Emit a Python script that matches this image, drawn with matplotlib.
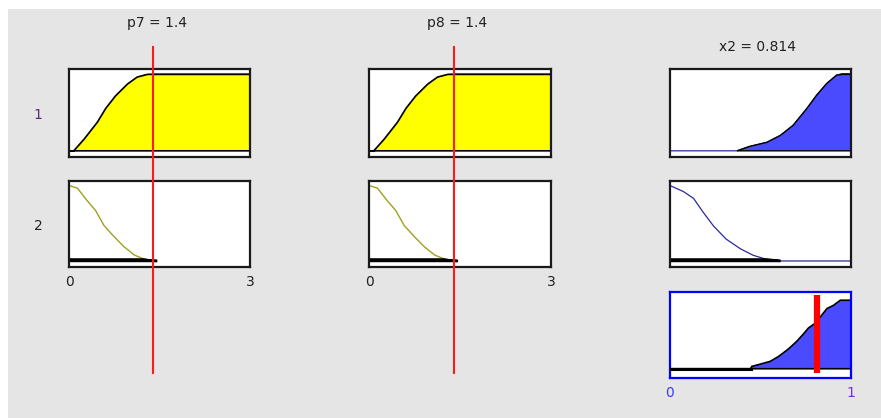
import numpy as np
import matplotlib
matplotlib.use("Agg")
import matplotlib.pyplot as plt
from matplotlib.patches import Rectangle
from matplotlib.lines import Line2D
import matplotlib.transforms as mtransforms

# ---------------- data ----------------
input_names = ["p7", "p8"]
input_values = [1.4, 1.4]
input_range = [0, 3]
output_name = "x2"
output_value = 0.814
output_range = [0, 1]
rule_labels = ["1", "2"]

# input MF 1 (rising)
in_x_rise = [0, 0.08, 0.25, 0.36, 0.47, 0.61, 0.77, 0.97, 1.13, 1.30, 1.46, 3.0]
in_mf_rise = [0, 0, 0.15, 0.26, 0.37, 0.55, 0.71, 0.865, 0.955, 0.99, 1.0, 1.0]
# input MF 2 (falling)
in_x_fall = [0, 0.14, 0.30, 0.44, 0.58, 0.75, 0.91, 1.08, 1.24, 1.35, 1.46]
in_mf_fall = [1.0, 0.965, 0.80, 0.67, 0.47, 0.32, 0.19, 0.08, 0.026, 0.006, 0.0]

# output MF 1 (high) and MF 2 (low)
out_x_high = [0, 0.37, 0.44, 0.535, 0.61, 0.68, 0.755, 0.81, 0.865, 0.92, 0.95, 1.0]
out_mf_high = [0, 0, 0.057, 0.11, 0.2, 0.33, 0.545, 0.72, 0.87, 0.98, 1.0, 1.0]
out_x_low = [0, 0.074, 0.13, 0.185, 0.24, 0.31, 0.39, 0.46, 0.535, 0.61, 1.0]
out_mf_low = [1.0, 0.92, 0.83, 0.64, 0.465, 0.29, 0.16, 0.075, 0.02, 0.0, 0.0]

# rule firing strengths
rule_strength = [0.99, 0.02]

# aggregated output
agg_x = [0, 0.445, 0.452, 0.498, 0.553, 0.60, 0.655, 0.70, 0.738, 0.765, 0.80,
         0.83, 0.867, 0.904, 0.941, 1.0]
agg_y = [0, 0, 0.034, 0.067, 0.107, 0.18, 0.29, 0.40, 0.51, 0.595, 0.66,
         0.755, 0.878, 0.927, 1.0, 1.0]

# ---------------- style ----------------
W, H = 881, 418
BG = "#e5e5e5"
YELLOW = "#ffff00"
OLIVE = "#a0a020"
BLUEFILL = "#4a4aff"
NAVY = "#2a2a9a"
TXT = "#222222"

fig = plt.figure(figsize=(W / 100, H / 100), dpi=100)
fig.patch.set_facecolor("white")
fig.add_artist(Rectangle((8 / W, 0), 1 - 8 / W, 1 - 9 / H, transform=fig.transFigure,
                         facecolor=BG, edgecolor="none", zorder=-10))


def px_axes(x0, x1, y0, y1):
    return fig.add_axes([x0 / W, 1 - y1 / H, (x1 - x0) / W, (y1 - y0) / H])


def style_box(ax, color="#1a1a1a"):
    ax.set_facecolor("white")
    for s in ax.spines.values():
        s.set_color(color)
        s.set_linewidth(1.6)
    ax.tick_params(length=0)
    ax.set_yticks([])


col_x = [(69, 250), (369, 551), (670, 851)]
row_y = [(69, 157), (181, 267)]
MF_YLIM = (-0.08, 1.06)

in_mfs = [(in_x_rise, in_mf_rise), (in_x_fall, in_mf_fall)]
out_mfs = [(out_x_high, out_mf_high), (out_x_low, out_mf_low)]

for ci in range(2):
    axes_col = []
    for ri in range(2):
        ax = px_axes(col_x[ci][0], col_x[ci][1], row_y[ri][0], row_y[ri][1])
        style_box(ax)
        x = np.array(in_mfs[ri][0])
        y = np.array(in_mfs[ri][1])
        ax.plot(x, y, color=OLIVE, lw=1.0, zorder=1)
        clipped = np.minimum(y, rule_strength[ri])
        ax.fill(np.r_[x, x[::-1]], np.r_[clipped, np.zeros_like(x)],
                facecolor=YELLOW, edgecolor="black", lw=1.2 if ri == 0 else 1.8, zorder=2)
        ax.set_xlim(input_range)
        ax.set_ylim(MF_YLIM)
        if ri == 1:
            ax.set_xticks(input_range)
            ax.set_xticklabels([str(v) for v in input_range], fontsize=10, color=TXT)
            ax.tick_params(axis="x", pad=6)
        else:
            ax.set_xticks([])
        axes_col.append(ax)
    top = axes_col[0]
    tr = mtransforms.blended_transform_factory(top.transAxes, fig.transFigure)
    fig.text(0.485, 1 - 23 / H, f"{input_names[ci]} = {input_values[ci]}",
             transform=tr, ha="center", va="center", fontsize=10, color=TXT)
    trl = mtransforms.blended_transform_factory(top.transData, fig.transFigure)
    fig.add_artist(Line2D([input_values[ci], input_values[ci]], [1 - 373 / H, 1 - 47 / H],
                          transform=trl, color="#ff1a1a", lw=1.5, zorder=5))

# output column
for ri in range(2):
    ax = px_axes(col_x[2][0], col_x[2][1], row_y[ri][0], row_y[ri][1])
    style_box(ax)
    x = np.array(out_mfs[ri][0])
    y = np.array(out_mfs[ri][1])
    ax.plot(x, y, color=NAVY, lw=0.9, zorder=1)
    clipped = np.minimum(y, rule_strength[ri])
    pos = np.nonzero(clipped > 0)[0]
    s = max(pos[0] - 1, 0)
    e = min(pos[-1] + 1, len(x) - 1)
    xs, cs = x[s:e + 1], clipped[s:e + 1]
    ax.fill(np.r_[xs, xs[::-1]], np.r_[cs, np.zeros_like(xs)],
            facecolor=BLUEFILL, edgecolor="black", lw=1.0 if ri == 0 else 1.8, zorder=2)
    ax.set_xlim(output_range)
    ax.set_ylim(MF_YLIM)
    ax.set_xticks([])
    if ri == 0:
        tr = mtransforms.blended_transform_factory(ax.transAxes, fig.transFigure)
        fig.text(0.485, 1 - 47 / H, f"{output_name} = {output_value}",
                 transform=tr, ha="center", va="center", fontsize=10, color=TXT)

# aggregated axes
axa = px_axes(670, 851, 292, 378)
style_box(axa, color="#0000ff")
ax_x = np.array(agg_x)
ax_y = np.array(agg_y)
axa.fill(np.r_[ax_x, ax_x[::-1]], np.r_[ax_y, np.zeros_like(ax_y)],
         facecolor=BLUEFILL, edgecolor="black", lw=1.2, zorder=2)
axa.plot(ax_x[ax_y == 0], ax_y[ax_y == 0], color="black", lw=2.2, zorder=3)
axa.set_xlim(output_range)
axa.set_ylim(-0.135, 1.12)
axa.axvline(output_value, ymin=0.063, ymax=0.97, color="#ff0000", lw=4.5,
            solid_capstyle="butt", zorder=5)
axa.set_xticks(output_range)
axa.set_xticklabels([str(v) for v in output_range], fontsize=10)
for lbl, c in zip(axa.get_xticklabels(), ["#3b3bff", "#7a2be0"]):
    lbl.set_color(c)
axa.tick_params(axis="x", pad=6)

# rule numbers
for ri, lab in enumerate(rule_labels):
    yc = (row_y[ri][0] + row_y[ri][1]) / 2 + 2
    fig.text(38 / W, 1 - yc / H, lab, ha="center", va="center", fontsize=10,
             color="#5a2a7a" if ri == 0 else TXT)

fig.savefig("out.png", dpi=100, facecolor=fig.get_facecolor())
